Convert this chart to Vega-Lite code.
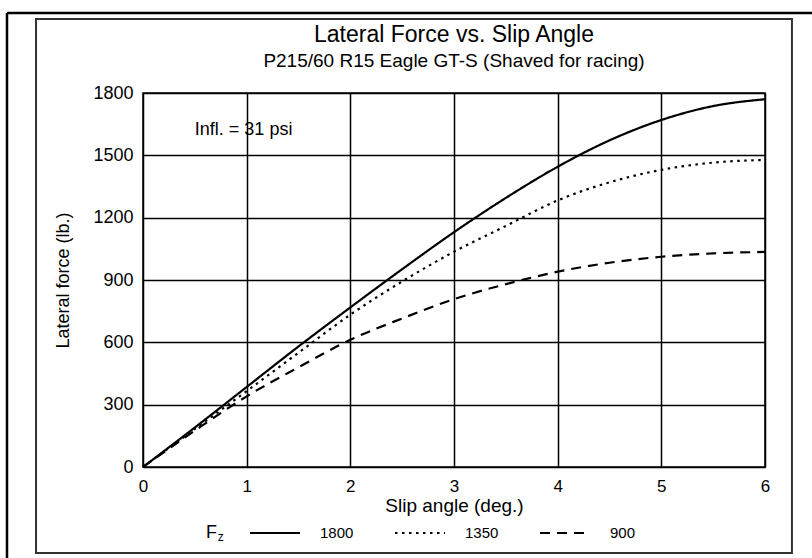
{
  "$schema": "https://vega.github.io/schema/vega-lite/v6.json",
  "width": 622,
  "height": 374,
  "autosize": "none",
  "padding": {"left": 143, "top": 93, "right": 47, "bottom": 91},
  "background": "white",
  "config": {
    "view": {"stroke": "black", "strokeWidth": 1.5},
    "font": "Liberation Sans"
  },
  "title": {
    "text": "Lateral Force vs. Slip Angle",
    "subtitle": "P215/60 R15 Eagle GT-S (Shaved for racing)",
    "fontSize": 23,
    "subtitleFontSize": 19,
    "fontWeight": "normal",
    "color": "black",
    "subtitleColor": "black",
    "anchor": "middle",
    "frame": "group",
    "offset": -59,
    "subtitlePadding": 5
  },
  "datasets": {
    "curves": [
      {"x": 0, "y": 0, "Fz": "1800"},
      {"x": 0.5, "y": 190, "Fz": "1800"},
      {"x": 1, "y": 385, "Fz": "1800"},
      {"x": 1.5, "y": 580, "Fz": "1800"},
      {"x": 2, "y": 768, "Fz": "1800"},
      {"x": 2.5, "y": 952, "Fz": "1800"},
      {"x": 3, "y": 1130, "Fz": "1800"},
      {"x": 3.5, "y": 1295, "Fz": "1800"},
      {"x": 4, "y": 1445, "Fz": "1800"},
      {"x": 4.5, "y": 1572, "Fz": "1800"},
      {"x": 5, "y": 1670, "Fz": "1800"},
      {"x": 5.5, "y": 1737, "Fz": "1800"},
      {"x": 6, "y": 1770, "Fz": "1800"},
      {"x": 0, "y": 0, "Fz": "1350"},
      {"x": 0.5, "y": 183, "Fz": "1350"},
      {"x": 1, "y": 365, "Fz": "1350"},
      {"x": 1.5, "y": 550, "Fz": "1350"},
      {"x": 2, "y": 733, "Fz": "1350"},
      {"x": 2.5, "y": 893, "Fz": "1350"},
      {"x": 3, "y": 1036, "Fz": "1350"},
      {"x": 3.5, "y": 1160, "Fz": "1350"},
      {"x": 4, "y": 1283, "Fz": "1350"},
      {"x": 4.5, "y": 1370, "Fz": "1350"},
      {"x": 5, "y": 1430, "Fz": "1350"},
      {"x": 5.5, "y": 1465, "Fz": "1350"},
      {"x": 6, "y": 1478, "Fz": "1350"},
      {"x": 0, "y": 0, "Fz": "900"},
      {"x": 0.5, "y": 175, "Fz": "900"},
      {"x": 1, "y": 340, "Fz": "900"},
      {"x": 1.5, "y": 480, "Fz": "900"},
      {"x": 2, "y": 612, "Fz": "900"},
      {"x": 2.5, "y": 715, "Fz": "900"},
      {"x": 3, "y": 808, "Fz": "900"},
      {"x": 3.5, "y": 880, "Fz": "900"},
      {"x": 4, "y": 940, "Fz": "900"},
      {"x": 4.5, "y": 983, "Fz": "900"},
      {"x": 5, "y": 1012, "Fz": "900"},
      {"x": 5.5, "y": 1028, "Fz": "900"},
      {"x": 6, "y": 1035, "Fz": "900"}
    ],
    "notes": [
      {"x": 0.5, "y": 1620, "label": "Infl. = 31 psi"}
    ],
    "one": [{}]
  },
  "layer": [
    {
      "data": {"name": "one"},
      "mark": {"type": "rect", "fill": null, "fillOpacity": 0, "stroke": "#333333", "strokeWidth": 2},
      "encoding": {
        "x": {"datum": -1.032, "type": "quantitative", "scale": {"domain": [0, 6], "nice": false}, "title": "Slip angle (deg.)"},
        "x2": {"datum": 6.26},
        "y": {"datum": 2156, "type": "quantitative", "scale": {"domain": [0, 1800], "nice": false}, "title": "Lateral force (lb.)"},
        "y2": {"datum": -414}
      }
    },
    {
      "data": {"name": "one"},
      "mark": {"type": "rule", "color": "black", "strokeWidth": 2.5},
      "encoding": {
        "x": {"datum": -1.312, "type": "quantitative", "scale": {"domain": [0, 6], "nice": false}, "title": "Slip angle (deg.)"},
        "x2": {"datum": 6.46},
        "y": {"datum": 2185, "type": "quantitative", "scale": {"domain": [0, 1800], "nice": false}, "title": "Lateral force (lb.)"}
      }
    },
    {
      "data": {"name": "one"},
      "mark": {"type": "rule", "color": "black", "strokeWidth": 2.5},
      "encoding": {
        "x": {"datum": -1.312, "type": "quantitative", "scale": {"domain": [0, 6], "nice": false}, "title": "Slip angle (deg.)"},
        "y": {"datum": 2185, "type": "quantitative", "scale": {"domain": [0, 1800], "nice": false}, "title": "Lateral force (lb.)"},
        "y2": {"datum": -440}
      }
    },
    {
      "data": {"name": "curves"},
      "mark": {"type": "line", "color": "black", "strokeWidth": 2.2, "strokeCap": "butt", "interpolate": "monotone", "clip": false},
      "encoding": {
        "x": {
          "field": "x", "type": "quantitative",
          "scale": {"domain": [0, 6], "nice": false},
          "title": "Slip angle (deg.)",
          "axis": {
            "title": "Slip angle (deg.)",
            "values": [0, 1, 2, 3, 4, 5, 6], "format": "d",
            "grid": true, "gridColor": "black", "gridWidth": 1.5, "gridOpacity": 1,
            "domain": false, "ticks": false,
            "labelFontSize": 17, "labelColor": "black", "labelPadding": 11, "labelFlush": false,
            "titleFontSize": 19, "titleFontWeight": "normal", "titleColor": "black", "titlePadding": 2
          }
        },
        "y": {
          "field": "y", "type": "quantitative",
          "scale": {"domain": [0, 1800], "nice": false},
          "title": "Lateral force (lb.)",
          "axis": {
            "title": "Lateral force (lb.)",
            "values": [0, 300, 600, 900, 1200, 1500, 1800],
            "grid": true, "gridColor": "black", "gridWidth": 1.5, "gridOpacity": 1,
            "domain": false, "ticks": false, "format": "d",
            "labelFontSize": 18, "labelColor": "black", "labelPadding": 10, "labelFlush": false,
            "titleFontSize": 18, "titleFontWeight": "normal", "titleColor": "black", "titlePadding": 20
          }
        },
        "strokeDash": {
          "field": "Fz", "type": "nominal",
          "scale": {"domain": ["1800", "1350", "900"], "range": [[1, 0], [2.5, 4.5], [10, 7]]},
          "legend": {
            "orient": "none", "legendX": 63, "legendY": 414,
            "direction": "horizontal",
            "title": "F", "titleOrient": "left", "titleAnchor": "middle", "titleBaseline": "top",
            "titleFontSize": 18, "titleFontWeight": "normal", "titleColor": "black", "titlePadding": 32,
            "symbolType": "stroke", "symbolSize": 2500, "symbolStrokeWidth": 2, "symbolStrokeColor": "black",
            "labelFontSize": 15, "labelColor": "black", "labelOffset": 19,
            "columnPadding": 37, "gridAlign": "all"
          }
        }
      }
    },
    {
      "data": {"name": "notes"},
      "mark": {"type": "text", "align": "left", "baseline": "middle", "fontSize": 18, "color": "black"},
      "encoding": {
        "x": {"field": "x", "type": "quantitative", "scale": {"domain": [0, 6], "nice": false}, "title": "Slip angle (deg.)"},
        "y": {"field": "y", "type": "quantitative", "scale": {"domain": [0, 1800], "nice": false}, "title": "Lateral force (lb.)"},
        "text": {"field": "label"}
      }
    },
    {
      "data": {"name": "one"},
      "mark": {"type": "text", "align": "left", "baseline": "middle", "fontSize": 12, "color": "black"},
      "encoding": {
        "x": {"datum": 0.72, "type": "quantitative", "scale": {"domain": [0, 6], "nice": false}, "title": "Slip angle (deg.)"},
        "y": {"datum": -335, "type": "quantitative", "scale": {"domain": [0, 1800], "nice": false}, "title": "Lateral force (lb.)"},
        "text": {"value": "z"}
      }
    }
  ]
}
